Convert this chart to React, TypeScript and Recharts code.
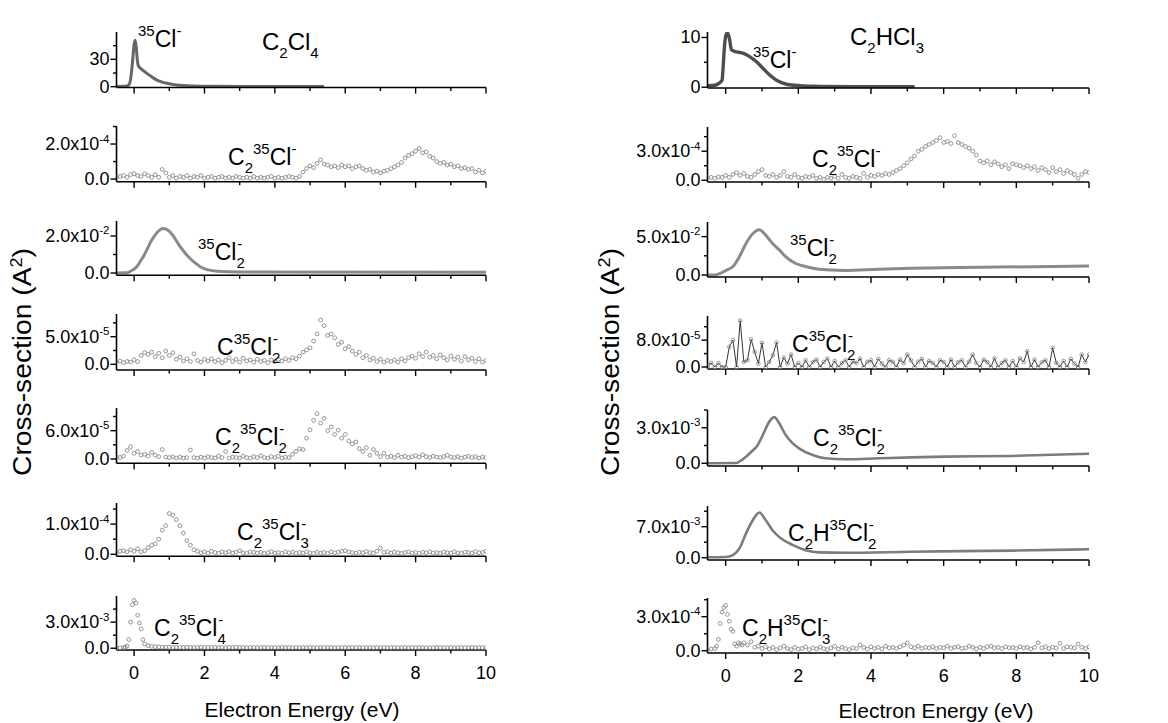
import React from 'react';
import { ComposedChart, Line, Scatter, XAxis, YAxis } from 'recharts';

const FONT = '"Liberation Sans", Arial, Helvetica, sans-serif';

// Electron energy axis
const ENERGY_TICKS = [0, 1, 2, 3, 4, 5, 6, 7, 8, 9, 10];
// Uniform energy grid of the scanned channels: -0.5 ... 10 eV in 0.1 eV steps
const ENERGY_GRID: number[] = Array.from({ length: 106 }, (_, i) => (i - 5) / 10);

/* ---------------- C2Cl4 ---------------- */

// 35Cl- (A^2)
const c2cl4ClE = [-0.5, -0.3, -0.2, -0.15, -0.1, -0.05, 0, 0.03, 0.06, 0.09, 0.12, 0.2, 0.3, 0.4, 0.5, 0.6, 0.7, 0.8, 0.9, 1.0, 1.2, 1.4, 1.7, 2.0, 3.0, 4.0, 5.4];
const c2cl4ClV = [0.3, 0.4, 0.8, 2, 8, 25, 46, 51, 44, 30, 23, 19.5, 16.5, 13.5, 11, 8.3, 6.3, 5.0, 4.0, 3.2, 1.9, 1.2, 0.7, 0.45, 0.25, 0.15, 0.1];

// C2 35Cl- (1e-4 A^2) on ENERGY_GRID
const c2cl4C2ClV = [
  0.1, 0.15, 0.2, 0.1, 0.25,
  0.3, 0.2, 0.15, 0.3, 0.2, 0.1, 0.25, 0.1, 0.55, 0.35,
  0.1, 0.2, 0.05, 0.15, 0.1, 0.2, 0.05, 0.15, 0.1, 0.2,
  0.05, 0.1, 0.15, 0.05, 0.1, 0.15, 0.05, 0.1, 0.05, 0.15,
  0.1, 0.05, 0.1, 0.05, 0.15, 0.05, 0.1, 0.05, 0.1, 0.15,
  0.05, 0.1, 0.05, 0.1, 0.15, 0.1, 0.05, 0.15, 0.4, 0.6,
  0.75, 0.65, 0.9, 1.1, 0.85, 0.8, 0.7, 0.75, 0.65, 0.8,
  0.7, 0.75, 0.6, 0.7, 0.75, 0.6, 0.5, 0.55, 0.4, 0.45,
  0.35, 0.45, 0.5, 0.6, 0.7, 0.8, 0.95, 1.2, 1.35, 1.45,
  1.6, 1.75, 1.5, 1.55, 1.3, 1.2, 1.0, 0.9, 0.95, 0.8,
  0.85, 0.7, 0.75, 0.6, 0.65, 0.55, 0.6, 0.4, 0.5, 0.35,
  0.45,
];

// 35Cl2- (1e-2 A^2)
const c2cl4Cl2E = [-0.5, -0.2, -0.1, 0.07, 0.2, 0.28, 0.4, 0.47, 0.56, 0.66, 0.75, 0.82, 0.9, 1.03, 1.13, 1.22, 1.32, 1.42, 1.51, 1.6, 1.7, 1.8, 1.89, 2.08, 2.36, 3, 10];
const c2cl4Cl2V = [0, 0.01, 0.1, 0.32, 0.7, 0.95, 1.4, 1.68, 1.95, 2.2, 2.35, 2.4, 2.38, 2.2, 1.95, 1.68, 1.4, 1.15, 0.95, 0.77, 0.6, 0.45, 0.32, 0.18, 0.09, 0.05, 0.04];

// C35Cl2- (1e-5 A^2) on ENERGY_GRID
const c2cl4CCl2V = [
  0.4, 0.6, 0.3, 0.5, 0.4,
  0.8, 0.5, 1.6, 2.1, 1.8, 2.2, 1.4, 2.0, 1.2, 2.4,
  1.6, 2.1, 0.9, 1.3, 0.6, 1.0, 0.5, 1.9, 0.7, 0.4,
  0.9, 0.6, 1.0, 0.5, 0.8, 0.3, 0.7, 1.2, 0.5, 0.9,
  0.4, 1.1, 0.6, 0.8, 0.4, 0.9, 0.5, 0.7, 0.3, 0.8,
  0.5, 0.9, 0.6, 1.0, 0.7, 1.2, 1.0, 1.5, 2.2, 2.6,
  3.0, 4.2, 5.5, 8.0, 7.0, 5.2, 5.5, 4.8, 3.6, 4.0,
  2.8, 3.2, 2.4, 1.8, 2.2, 1.2, 1.6, 0.8, 1.1, 0.5,
  0.9, 0.4, 0.7, 0.5, 0.8, 0.4, 1.0, 0.6, 1.2, 1.5,
  1.1, 1.9, 1.4, 2.2, 1.3, 1.6, 1.0, 1.7, 1.2, 0.8,
  1.5, 0.9, 1.3, 0.6, 1.4, 0.8, 1.1, 0.5, 1.0, 0.4,
  0.7,
];

// C2 35Cl2- (1e-5 A^2) on ENERGY_GRID
const c2cl4C2Cl2V = [
  0.5, 0.3, 0.6, 1.8, 2.6,
  1.2, 1.6, 0.8, 1.0, 0.6, 1.4, 0.8, 0.5, 2.0, 0.4,
  0.3, 0.5, 0.2, 0.4, 0.2, 0.3, 1.9, 0.3, 0.2, 0.4,
  0.2, 0.5, 0.3, 0.2, 0.6, 0.3, 1.6, 0.2, 0.4, 0.3,
  0.2, 0.6, 0.3, 0.2, 0.5, 0.3, 0.7, 0.3, 0.2, 0.5,
  0.3, 0.6, 0.2, 0.4, 0.3, 1.0, 1.6, 2.2, 2.0, 4.4,
  6.2, 8.2, 9.6, 7.6, 8.6, 6.0, 6.8, 5.2, 6.1, 4.4,
  5.2, 3.8, 3.2, 3.6, 2.2, 1.6, 2.4, 0.8, 2.0, 1.2,
  0.5, 1.2, 0.4, 0.6, 0.3, 0.8, 0.4, 0.6, 0.3, 0.5,
  0.7, 0.4, 0.9, 0.5, 0.3, 0.6, 0.4, 0.3, 0.5, 0.8,
  0.4, 0.3, 0.5, 0.2, 0.4, 0.6, 0.3, 0.5, 0.2, 0.4,
  0.3,
];

// C2 35Cl3- (1e-4 A^2) on ENERGY_GRID
const c2cl4C2Cl3V = [
  0.05, 0.1, 0.12, 0.08, 0.15,
  0.1, 0.18, 0.08, 0.12, 0.22, 0.3, 0.35, 0.5, 0.8, 0.95,
  1.35, 1.3, 1.15, 0.95, 0.7, 0.45, 0.3, 0.15, 0.1, 0.05,
  0.08, 0.04, 0.1, 0.06, 0.03, 0.08, 0.05, 0.09, 0.04, 0.07,
  0.12, 0.05, 0.03, 0.08, 0.06, 0.04, 0.07, 0.03, 0.05, 0.09,
  0.04, 0.06, 0.03, 0.08, 0.05, 0.07, 0.03, 0.06, 0.04, 0.08,
  0.05, 0.03, 0.07, 0.04, 0.06, 0.03, 0.08, 0.05, 0.07, 0.1,
  0.12, 0.08, 0.06, 0.04, 0.07, 0.05, 0.09, 0.06, 0.04, 0.1,
  0.2, 0.06, 0.08, 0.04, 0.07, 0.05, 0.03, 0.06, 0.08, 0.04,
  0.06, 0.03, 0.07, 0.05, 0.08, 0.04, 0.06, 0.03, 0.07, 0.05,
  0.04, 0.08, 0.05, 0.03, 0.07, 0.06, 0.04, 0.09, 0.05, 0.06,
  0.1,
];

// C2 35Cl4- (1e-3 A^2) on ENERGY_GRID, plus the half-step points across the peak
const c2cl4C2Cl4V = [
  0.05, 0.06, 0.08, 0.25, 3.0,
  5.5, 3.8, 2.2, 0.5, 0.3, 0.22, 0.18, 0.15, 0.13, 0.12,
  0.11, 0.1, 0.12, 0.1, 0.09, 0.11, 0.1, 0.09, 0.1, 0.11,
  0.1, 0.09, 0.1, 0.11, 0.09, 0.1, 0.08, 0.1, 0.09, 0.1,
  0.09, 0.1, 0.08, 0.09, 0.1, 0.08, 0.09, 0.1, 0.08, 0.09,
  0.08, 0.09, 0.1, 0.08, 0.09, 0.07, 0.09, 0.08, 0.1, 0.08,
  0.09, 0.08, 0.07, 0.09, 0.08, 0.1, 0.08, 0.07, 0.09, 0.08,
  0.08, 0.07, 0.09, 0.08, 0.1, 0.07, 0.08, 0.09, 0.07, 0.08,
  0.09, 0.08, 0.07, 0.08, 0.09, 0.07, 0.08, 0.1, 0.07, 0.08,
  0.07, 0.08, 0.09, 0.07, 0.08, 0.07, 0.09, 0.08, 0.07, 0.08,
  0.08, 0.07, 0.09, 0.08, 0.07, 0.08, 0.09, 0.07, 0.08, 0.07,
  0.08,
];
const c2cl4C2Cl4PeakE = [-0.25, -0.15, -0.05, 0.05, 0.15, 0.25];
const c2cl4C2Cl4PeakV = [0.12, 1.0, 5.0, 5.2, 2.9, 1.0];

/* ---------------- C2HCl3 ---------------- */

// 35Cl- (A^2)
const c2hcl3ClE = [-0.5, -0.3, -0.2, -0.1, -0.07, -0.04, 0, 0.05, 0.11, 0.16, 0.3, 0.49, 0.67, 0.85, 1.04, 1.22, 1.4, 1.68, 2.05, 2.4, 3.5, 5.2];
const c2hcl3ClV = [0.3, 0.4, 0.7, 1.4, 4, 7.5, 10.2, 11, 9.5, 7.5, 7.1, 6.8, 6.1, 5.1, 3.7, 2.4, 1.4, 0.6, 0.3, 0.2, 0.12, 0.1];

// C2 35Cl- (1e-4 A^2) on ENERGY_GRID
const c2hcl3C2ClV = [
  0.25, 0.3, 0.2, 0.35, 0.3,
  0.5, 0.3, 0.6, 0.8, 0.5, 0.7, 0.4, 0.3, 0.6, 0.9,
  1.1, 0.5, 0.4, 0.6, 0.3, 0.5, 0.9, 0.4, 0.3, 0.6,
  0.3, 0.2, 0.4, 0.3, 0.5, 0.2, 0.3, 0.1, 0.3, 0.2,
  0.4, 0.2, 0.6, 0.3, 0.2, 0.4, 0.3, 0.2, 0.7, 0.3,
  0.5, 0.4, 0.6, 0.5, 0.7, 0.6, 0.8, 1.0, 1.2, 1.5,
  1.8, 2.2, 2.5, 3.0, 3.2, 3.5, 3.7, 3.9, 4.1, 4.4,
  3.9, 4.0, 3.8, 4.6, 3.9, 3.7, 3.5, 3.3, 3.0, 2.6,
  2.0, 1.8, 2.0, 1.6, 1.9, 1.7, 1.4, 1.6, 1.2, 1.7,
  1.6, 1.5, 1.3, 1.5, 1.2, 1.4, 1.0, 1.3, 1.1, 0.8,
  1.3, 0.9, 1.1, 0.7, 1.0, 0.8, 0.6, 0.2, 0.6, 0.9,
  0.8,
];

// 35Cl2- (1e-2 A^2)
const c2hcl3Cl2E = [-0.5, -0.3, -0.15, 0.03, 0.2, 0.38, 0.56, 0.75, 0.93, 1.1, 1.29, 1.47, 1.65, 1.93, 2.2, 2.57, 2.94, 3.3, 4.2, 5.1, 7.0, 10];
const c2hcl3Cl2V = [0, 0, 0.2, 0.65, 1.1, 2.4, 4.1, 5.4, 5.9, 5.2, 4.1, 3.3, 2.4, 1.5, 1.1, 0.75, 0.65, 0.6, 0.75, 0.87, 1.0, 1.17];

// C35Cl2- (1e-5 A^2) on ENERGY_GRID
const c2hcl3CCl2V = [
  0, 1.2, 0, 1.2, 0,
  0, 6.0, 8.0, 0, 13.8, 1.5, 2.0, 8.2, 4.5, 1.0,
  7.2, 0, 1.5, 3.5, 7.3, 0, 2.8, 1.0, 3.7, 0,
  1.2, 0, 2.0, 0, 1.5, 2.2, 0, 1.5, 2.5, 0,
  1.8, 0, 1.2, 2.0, 0, 1.6, 1.2, 2.5, 0, 1.5,
  2.0, 0, 2.4, 1.0, 0, 2.0, 1.5, 0, 2.2, 1.2,
  3.7, 2.0, 0, 1.6, 2.4, 0, 1.8, 1.2, 0, 2.0,
  1.5, 0, 2.2, 0, 1.4, 2.0, 0, 1.6, 3.7, 1.2,
  0, 2.2, 1.5, 0, 2.6, 0, 1.2, 2.0, 0, 1.8,
  0, 2.6, 1.5, 4.7, 0, 2.2, 0, 1.4, 2.0, 0,
  5.7, 1.2, 0, 1.8, 0, 2.4, 1.0, 0, 3.7, 1.5,
  3.7,
];

// C2 35Cl2- (1e-3 A^2)
const c2hcl3C2Cl2E = [-0.5, 0.3, 0.38, 0.56, 0.75, 0.85, 1.04, 1.17, 1.34, 1.47, 1.65, 1.84, 2.02, 2.39, 2.75, 3.3, 4.22, 5.1, 6.04, 7.87, 10];
const c2hcl3C2Cl2V = [0, 0.02, 0.15, 0.56, 1.1, 1.4, 2.5, 3.36, 3.9, 3.4, 2.4, 1.7, 1.26, 0.7, 0.42, 0.34, 0.42, 0.5, 0.56, 0.62, 0.8];

// C2H35Cl2- (1e-3 A^2)
const c2hcl3C2HCl2E = [-0.5, 0, 0.2, 0.38, 0.56, 0.75, 0.93, 1.1, 1.29, 1.47, 1.84, 2.2, 2.57, 3.3, 5.1, 7.9, 10];
const c2hcl3C2HCl2V = [0.1, 0.15, 0.6, 2.1, 5.5, 8.5, 10.2, 8.5, 6.2, 4.7, 2.9, 1.7, 1.2, 1.1, 1.35, 1.6, 1.9];

// C2H35Cl3- (1e-4 A^2) on ENERGY_GRID, plus the half-step points across the peak
const c2hcl3C2HCl3V = [
  0.1, 0.15, 0.2, 1.0, 3.4,
  4.0, 2.6, 1.7, 0.4, 0.6, 0.7, 0.5, 0.8, 0.3, 0.4,
  0.2, 0.35, 0.15, 0.3, 0.1, 0.25, 0.4, 0.2, 0.1, 0.3,
  0.15, 0.2, 0.35, 0.1, 0.25, 0.15, 0.3, 0.2, 0.1, 0.25,
  0.4, 0.15, 0.3, 0.2, 0.1, 0.25, 0.2, 0.5, 0.3, 0.15,
  0.35, 0.2, 0.3, 0.15, 0.4, 0.25, 0.3, 0.2, 0.35, 0.5,
  0.7, 0.35, 0.25, 0.4, 0.2, 0.3, 0.25, 0.35, 0.2, 0.3,
  0.25, 0.4, 0.2, 0.3, 0.35, 0.2, 0.25, 0.4, 0.3, 0.15,
  0.3, 0.2, 0.35, 0.4, 0.25, 0.3, 0.2, 0.35, 0.25, 0.3,
  0.2, 0.35, 0.25, 0.3, 0.15, 0.3, 0.7, 0.25, 0.35, 0.2,
  0.3, 0.25, 0.65, 0.2, 0.35, 0.3, 0.25, 0.6, 0.3, 0.2,
  0.35,
];
const c2hcl3C2HCl3PeakE = [-0.25, -0.15, -0.05, 0.05, 0.15, 0.25, 0.35, 0.45];
const c2hcl3C2HCl3PeakV = [0.4, 2.4, 3.8, 3.2, 1.9, 0.6, 0.7, 0.5];

/* ---------------- layout ---------------- */

type Pt = { e: number; v: number };
const pts = (es: number[], vs: number[]): Pt[] => es.map((e, i) => ({ e, v: vs[i] }));

type Series =
  | { kind: 'band'; data: Pt[]; color: string; width: number }
  | { kind: 'dots'; data: Pt[] }
  | { kind: 'spikes'; data: Pt[] };

type Major = { v: number; m: string; x?: string };
type Seg = [string, 'n' | 'b' | 'p' | 'bp', string?];

type Panel = {
  col: 0 | 1;
  top: number;
  bottom: number;
  yMin: number;
  yMax: number;
  majors: Major[];
  minors: number[];
  series: Series[];
  label: Seg[];
  lx: number;
  ly: number;
  last?: boolean;
};

const COLS = [
  { left: 0, width: 580, axisX: 116.5, plotRight: 486 },
  { left: 580, width: 588, axisX: 127.5, plotRight: 509 },
];

const DOT = '#8a8a8a';

const PANELS: Panel[] = [
  // C2Cl4 column
  {
    col: 0, top: 32, bottom: 87.5, yMin: -0.9, yMax: 60,
    majors: [{ v: 0, m: '0' }, { v: 30, m: '30' }], minors: [15, 45],
    series: [{ kind: 'band', data: pts(c2cl4ClE, c2cl4ClV), color: '#666666', width: 3 }],
    label: [['35', 'p'], ['Cl', 'n'], ['-', 'p']], lx: 138, ly: 47,
  },
  {
    col: 0, top: 126, bottom: 181.7, yMin: -0.15, yMax: 3.03,
    majors: [{ v: 0, m: '0.0' }, { v: 2, m: '2.0x10', x: '-4' }], minors: [1, 3],
    series: [{ kind: 'dots', data: pts(ENERGY_GRID, c2cl4C2ClV) }],
    label: [['C', 'n'], ['2', 'b'], ['35', 'p'], ['Cl', 'n'], ['-', 'p']], lx: 228, ly: 165,
  },
  {
    col: 0, top: 220.7, bottom: 275, yMin: -0.124, yMax: 2.81,
    majors: [{ v: 0, m: '0.0' }, { v: 2, m: '2.0x10', x: '-2' }], minors: [1],
    series: [{ kind: 'band', data: pts(c2cl4Cl2E, c2cl4Cl2V), color: '#8a8a8a', width: 3 }],
    label: [['35', 'p'], ['Cl', 'n'], ['2', 'bp', '-']], lx: 198, ly: 260,
  },
  {
    col: 0, top: 314, bottom: 370, yMin: -1.03, yMax: 9.1,
    majors: [{ v: 0, m: '0.0' }, { v: 5, m: '5.0x10', x: '-5' }], minors: [2.5, 7.5],
    series: [{ kind: 'dots', data: pts(ENERGY_GRID, c2cl4CCl2V) }],
    label: [['C', 'n'], ['35', 'p'], ['Cl', 'n'], ['2', 'bp', '-']], lx: 217, ly: 355,
  },
  {
    col: 0, top: 408, bottom: 463.3, yMin: -0.91, yMax: 10.8,
    majors: [{ v: 0, m: '0.0' }, { v: 6, m: '6.0x10', x: '-5' }], minors: [3, 9],
    series: [{ kind: 'dots', data: pts(ENERGY_GRID, c2cl4C2Cl2V) }],
    label: [['C', 'n'], ['2', 'b'], ['35', 'p'], ['Cl', 'n'], ['2', 'bp', '-']], lx: 215, ly: 445,
  },
  {
    col: 0, top: 502.7, bottom: 556, yMin: -0.067, yMax: 1.7,
    majors: [{ v: 0, m: '0.0' }, { v: 1, m: '1.0x10', x: '-4' }], minors: [0.5, 1.5],
    series: [{ kind: 'dots', data: pts(ENERGY_GRID, c2cl4C2Cl3V) }],
    label: [['C', 'n'], ['2', 'b'], ['35', 'p'], ['Cl', 'n'], ['3', 'bp', '-']], lx: 237, ly: 540,
  },
  {
    col: 0, top: 596, bottom: 650, yMin: -0.2, yMax: 6.0,
    majors: [{ v: 0, m: '0.0' }, { v: 3, m: '3.0x10', x: '-3' }], minors: [1.5, 4.5],
    series: [
      { kind: 'dots', data: pts(ENERGY_GRID, c2cl4C2Cl4V) },
      { kind: 'dots', data: pts(c2cl4C2Cl4PeakE, c2cl4C2Cl4PeakV) },
    ],
    label: [['C', 'n'], ['2', 'b'], ['35', 'p'], ['Cl', 'n'], ['4', 'bp', '-']], lx: 154, ly: 636,
    last: true,
  },
  // C2HCl3 column
  {
    col: 1, top: 31.5, bottom: 87.5, yMin: -0.16, yMax: 11.1,
    majors: [{ v: 0, m: '0' }, { v: 10, m: '10' }], minors: [5],
    series: [{ kind: 'band', data: pts(c2hcl3ClE, c2hcl3ClV), color: '#4e4e4e', width: 3.4 }],
    label: [['35', 'p'], ['Cl', 'n'], ['-', 'p']], lx: 753, ly: 68,
  },
  {
    col: 1, top: 126.7, bottom: 181.7, yMin: -0.18, yMax: 5.5,
    majors: [{ v: 0, m: '0.0' }, { v: 3, m: '3.0x10', x: '-4' }], minors: [1.5, 4.5],
    series: [{ kind: 'dots', data: pts(ENERGY_GRID, c2hcl3C2ClV) }],
    label: [['C', 'n'], ['2', 'b'], ['35', 'p'], ['Cl', 'n'], ['-', 'p']], lx: 812, ly: 167,
  },
  {
    col: 1, top: 222, bottom: 277, yMin: -0.26, yMax: 6.9,
    majors: [{ v: 0, m: '0.0' }, { v: 5, m: '5.0x10', x: '-2' }], minors: [2.5],
    series: [{ kind: 'band', data: pts(c2hcl3Cl2E, c2hcl3Cl2V), color: '#8a8a8a', width: 3 }],
    label: [['35', 'p'], ['Cl', 'n'], ['2', 'bp', '-']], lx: 790, ly: 256,
  },
  {
    col: 1, top: 316, bottom: 369, yMin: -0.6, yMax: 15.2,
    majors: [{ v: 0, m: '0.0' }, { v: 8, m: '8.0x10', x: '-5' }], minors: [4, 12],
    series: [{ kind: 'spikes', data: pts(ENERGY_GRID, c2hcl3CCl2V) }],
    label: [['C', 'n'], ['35', 'p'], ['Cl', 'n'], ['2', 'bp', '-']], lx: 792, ly: 352,
  },
  {
    col: 1, top: 410, bottom: 466, yMin: -0.23, yMax: 4.5,
    majors: [{ v: 0, m: '0.0' }, { v: 3, m: '3.0x10', x: '-3' }], minors: [1.5, 4.5],
    series: [{ kind: 'band', data: pts(c2hcl3C2Cl2E, c2hcl3C2Cl2V), color: '#7c7c7c', width: 2.6 }],
    label: [['C', 'n'], ['2', 'b'], ['35', 'p'], ['Cl', 'n'], ['2', 'bp', '-']], lx: 813, ly: 446,
  },
  {
    col: 1, top: 506, bottom: 560, yMin: -0.52, yMax: 11.67,
    majors: [{ v: 0, m: '0.0' }, { v: 7, m: '7.0x10', x: '-3' }], minors: [3.5, 10.5],
    series: [{ kind: 'band', data: pts(c2hcl3C2HCl2E, c2hcl3C2HCl2V), color: '#7c7c7c', width: 2.6 }],
    label: [['C', 'n'], ['2', 'b'], ['H', 'n'], ['35', 'p'], ['Cl', 'n'], ['2', 'bp', '-']], lx: 788, ly: 541,
  },
  {
    col: 1, top: 598, bottom: 653, yMin: -0.2, yMax: 4.65,
    majors: [{ v: 0, m: '0.0' }, { v: 3, m: '3.0x10', x: '-4' }], minors: [1.5, 4.5],
    series: [
      { kind: 'dots', data: pts(ENERGY_GRID, c2hcl3C2HCl3V) },
      { kind: 'dots', data: pts(c2hcl3C2HCl3PeakE, c2hcl3C2HCl3PeakV) },
    ],
    label: [['C', 'n'], ['2', 'b'], ['H', 'n'], ['35', 'p'], ['Cl', 'n'], ['3', 'bp', '-']], lx: 742, ly: 636,
    last: true,
  },
];

/* ---------------- drawing helpers ---------------- */

function XTick({ x, y, payload, labelled }: any) {
  const v = payload.value as number;
  const major = v % 2 === 0;
  return (
    <g>
      <line x1={x} x2={x} y1={y} y2={y + (major ? 6 : 3.5)} stroke="#000" strokeWidth={1.4} />
      {labelled && major && (
        <text x={x} y={y + 29} textAnchor="middle" fontSize={18} fontFamily={FONT} fill="#000">
          {v}
        </text>
      )}
    </g>
  );
}

function YTick({ x, y, payload, majors }: any) {
  const v = payload.value as number;
  const major = (majors as Major[]).find((m) => Math.abs(m.v - v) < 1e-9);
  return (
    <g>
      <line x1={x} x2={x - (major ? 6 : 3.5)} y1={y} y2={y} stroke="#000" strokeWidth={1.4} />
      {major && (
        <text x={x - 7} y={y} dy={6} textAnchor="end" fontSize={18} fontFamily={FONT} fill="#000">
          <tspan>{major.m}</tspan>
          {major.x && (
            <tspan dy={-7.5} fontSize={11.5}>
              {major.x}
            </tspan>
          )}
        </text>
      )}
    </g>
  );
}

const circle = (s: any) => (
  <circle cx={s.cx} cy={s.cy} r={1.9} fill="none" stroke={DOT} strokeWidth={0.9} />
);

function Formula({ x, y, segs, size = 23 }: { x: number; y: number; segs: Seg[]; size?: number }) {
  const small = 15;
  const subDy = 8;
  const supDy = -11;
  let shift = 0;
  const spans: React.ReactNode[] = [];
  segs.forEach(([txt, kind, extra], i) => {
    if (kind === 'n') {
      spans.push(<tspan key={i} dy={-shift} fontSize={size}>{txt}</tspan>);
      shift = 0;
    } else if (kind === 'b') {
      spans.push(<tspan key={i} dy={subDy - shift} fontSize={small}>{txt}</tspan>);
      shift = subDy;
    } else if (kind === 'p') {
      spans.push(<tspan key={i} dy={supDy - shift} fontSize={small}>{txt}</tspan>);
      shift = supDy;
    } else {
      // subscript with the charge sign stacked above it
      spans.push(<tspan key={i + 'b'} dy={subDy - shift} fontSize={small}>{txt}</tspan>);
      spans.push(<tspan key={i + 'p'} dx={-small * 0.5} dy={supDy - subDy} fontSize={small}>{extra}</tspan>);
      shift = supDy;
    }
  });
  return (
    <text x={x} y={y} fontFamily={FONT} fill="#000">
      {spans}
    </text>
  );
}

function PanelChart({ p }: { p: Panel }) {
  const g = COLS[p.col];
  const padTop = 12;
  const xAxisH = 48;
  const height = p.bottom - p.top + padTop + xAxisH;
  const yTicks = [...p.majors.map((m) => m.v), ...p.minors].sort((a, b) => a - b);
  return (
    <div style={{ position: 'absolute', left: g.left, top: p.top - padTop, width: g.width, height }}>
      <ComposedChart
        width={g.width}
        height={height}
        margin={{ top: padTop, right: g.width - g.plotRight, bottom: 0, left: 0 }}
      >
        <XAxis
          type="number"
          dataKey="e"
          domain={[-0.5, 10]}
          allowDataOverflow
          ticks={ENERGY_TICKS}
          interval={0}
          height={xAxisH}
          tickSize={0}
          tickMargin={0}
          tickLine={false}
          axisLine={{ stroke: '#000', strokeWidth: 1.6 }}
          tick={(t: any) => <XTick x={t.x} y={t.y} payload={t.payload} labelled={!!p.last} />}
        />
        <YAxis
          type="number"
          dataKey="v"
          domain={[p.yMin, p.yMax]}
          allowDataOverflow
          ticks={yTicks}
          interval={0}
          width={g.axisX}
          tickSize={0}
          tickMargin={0}
          tickLine={false}
          axisLine={{ stroke: '#000', strokeWidth: 1.6 }}
          tick={(t: any) => <YTick x={t.x} y={t.y} payload={t.payload} majors={p.majors} />}
        />
        {p.series.map((s, i) => {
          if (s.kind === 'band') {
            return (
              <Line
                key={i}
                data={s.data}
                dataKey="v"
                type="monotone"
                stroke={s.color}
                strokeWidth={s.width}
                dot={false}
                isAnimationActive={false}
              />
            );
          }
          if (s.kind === 'spikes') {
            return (
              <Line
                key={i}
                data={s.data}
                dataKey="v"
                type="linear"
                stroke="#000"
                strokeWidth={0.8}
                dot={{ r: 1.8, fill: 'none', stroke: DOT, strokeWidth: 0.9 }}
                isAnimationActive={false}
              />
            );
          }
          return <Scatter key={i} data={s.data} shape={circle} isAnimationActive={false} />;
        })}
      </ComposedChart>
    </div>
  );
}

export default function App() {
  return (
    <div
      style={{
        position: 'absolute',
        left: 0,
        top: 0,
        width: 1168,
        height: 723,
        background: '#fff',
        fontFamily: FONT,
        overflow: 'hidden',
      }}
    >
      {PANELS.map((p, i) => (
        <PanelChart key={i} p={p} />
      ))}
      <svg
        width={1168}
        height={723}
        style={{ position: 'absolute', left: 0, top: 0, pointerEvents: 'none' }}
      >
        <Formula x={262} y={50} segs={[['C', 'n'], ['2', 'b'], ['Cl', 'n'], ['4', 'b']]} size={24} />
        <Formula x={850} y={45} segs={[['C', 'n'], ['2', 'b'], ['HCl', 'n'], ['3', 'b']]} size={24} />
        {PANELS.map((p, i) => (
          <Formula key={i} x={p.lx} y={p.ly} segs={p.label} />
        ))}
        <text x={302} y={717} textAnchor="middle" fontSize={21} fontFamily={FONT} fill="#000">
          Electron Energy (eV)
        </text>
        <text x={936} y={718} textAnchor="middle" fontSize={21} fontFamily={FONT} fill="#000">
          Electron Energy (eV)
        </text>
        {[31, 619].map((bx) => (
          <text
            key={bx}
            transform={`translate(${bx},362) rotate(-90)`}
            textAnchor="middle"
            fontSize={25}
            fontFamily={FONT}
            fill="#000"
            textLength={228}
            lengthAdjust="spacingAndGlyphs"
          >
            <tspan>Cross-section (A</tspan>
            <tspan dy={-9} fontSize={16}>2</tspan>
            <tspan dy={9}>)</tspan>
          </text>
        ))}
      </svg>
    </div>
  );
}
